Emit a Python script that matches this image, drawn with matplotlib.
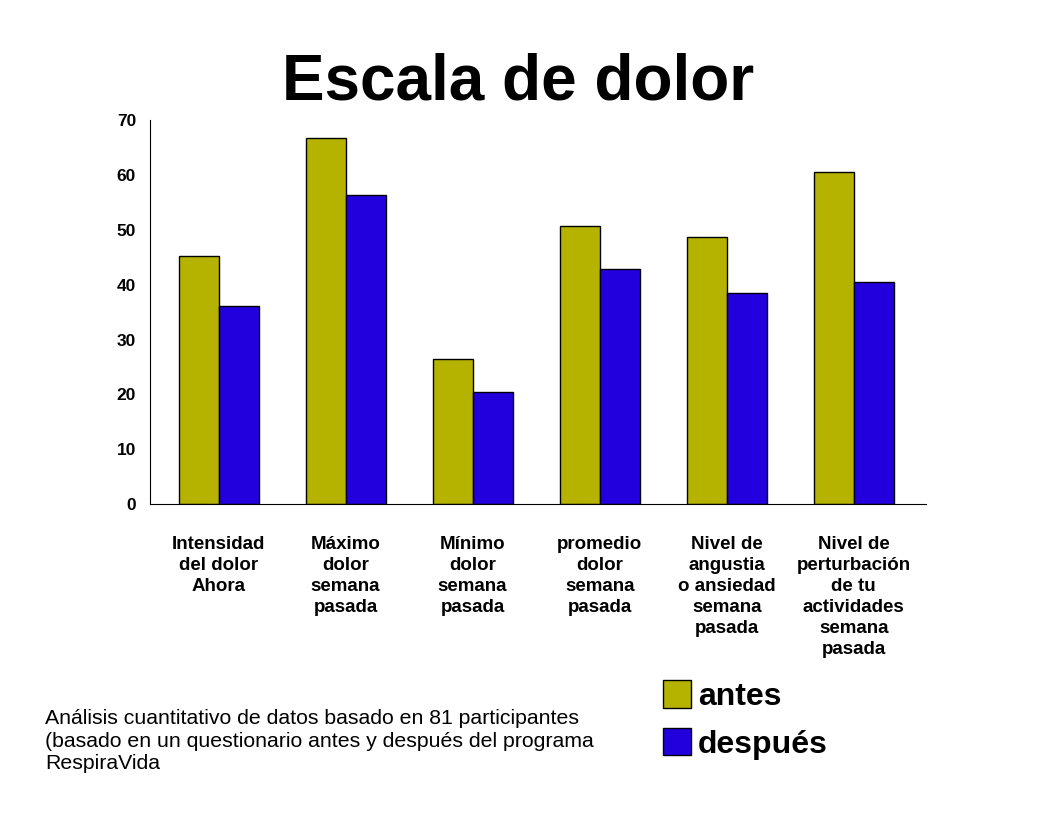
import numpy as np
import matplotlib
matplotlib.use('Agg')
import matplotlib.pyplot as plt

plt.rcParams['font.family'] = ['Liberation Sans', 'DejaVu Sans']

categories = ['Intensidad\ndel dolor\nAhora',
              'Máximo\ndolor\nsemana\npasada',
              'Mínimo\ndolor\nsemana\npasada',
              'promedio\ndolor\nsemana\npasada',
              'Nivel de\nangustia\no ansiedad\nsemana\npasada',
              'Nivel de\nperturbación\nde tu\nactividades\nsemana\npasada']
antes = [45.3, 66.7, 26.4, 50.6, 48.6, 60.6]
despues = [36.2, 56.4, 20.5, 42.8, 38.4, 40.5]
yticks = [0, 10, 20, 30, 40, 50, 60, 70]

fig = plt.figure(figsize=(10.56, 8.16), dpi=100)
ax = fig.add_axes([0.142, 0.382, 0.735, 0.471])

x = np.arange(len(categories))
w = 0.315
ax.bar(x - w/2, antes, w, color='#b5b300', edgecolor='black', linewidth=1, label='antes')
ax.bar(x + w/2, despues, w, color='#2200dd', edgecolor='black', linewidth=1, label='después')

ax.set_xlim(-0.54, 5.57)
ax.set_ylim(0, 70)
ax.set_yticks(yticks)
ax.set_xticks(x)
ax.set_xticklabels(categories, fontsize=13.5, fontweight='bold', linespacing=1.3, va='top')
ax.tick_params(axis='y', length=0, labelsize=12.5, pad=10)
ax.tick_params(axis='x', length=0, pad=23)
for lab in ax.get_yticklabels():
    lab.set_fontweight('bold')
ax.spines['top'].set_visible(False)
ax.spines['right'].set_visible(False)

fig.text(0.491, 0.899, 'Escala de dolor', ha='center', va='center',
         fontsize=46, fontweight='bold')

leg = fig.legend(loc='upper left', frameon=False,
                 prop={'size': 23, 'weight': 'bold'}, handlelength=0.88, handleheight=0.95,
                 handletextpad=0.2, labelspacing=0.5, borderpad=0)
leg.set_bbox_to_anchor((0.613, 0.186), transform=fig.transFigure)

fig.text(0.043, 0.131,
         'Análisis cuantitativo de datos basado en 81 participantes\n'
         '(basado en un questionario antes y después del programa\n'
         'RespiraVida', ha='left', va='top', fontsize=15.3, linespacing=1.24)

plt.savefig('out.png', dpi=100)
